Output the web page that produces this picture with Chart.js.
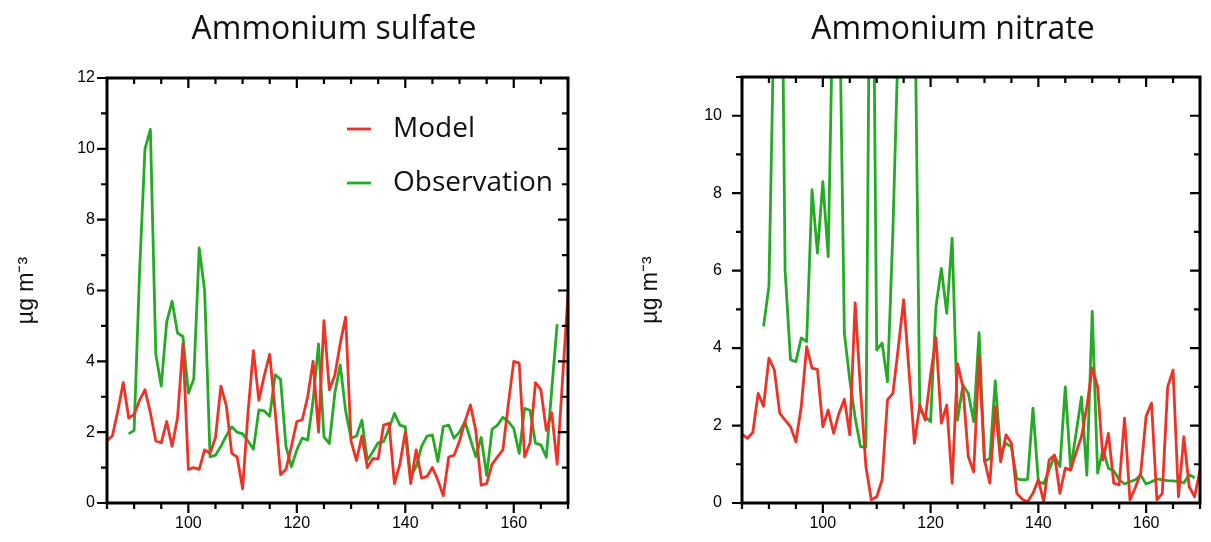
<!DOCTYPE html>
<html>
<head>
<meta charset="utf-8">
<script src="https://cdn.jsdelivr.net/npm/chart.js@4.4.1/dist/chart.umd.min.js"></script>
<style>
  body { margin: 0; background: #fff; width: 1211px; height: 542px; overflow: hidden; }
  canvas { position: absolute; top: 0; }
  #sulfate { left: 0; }
  #nitrate { left: 605px; }
</style>
</head>
<body>
<canvas id="sulfate" width="605" height="542"></canvas>
<canvas id="nitrate" width="606" height="542"></canvas>
<script>
// days 85..170, one value per day, null = no observation
var firstDay = 85;
var seriesNames = ['Model', 'Observation'];

var sulfateModel = [
  1.75, 1.9, 2.6, 3.4, 2.4, 2.5, 2.9, 3.2, 2.55, 1.75,
  1.7, 2.3, 1.6, 2.4, 4.5, 0.95, 1.0, 0.95, 1.5, 1.4,
  1.85, 3.3, 2.75, 1.4, 1.3, 0.4, 2.55, 4.3, 2.9, 3.6,
  4.2, 2.6, 0.8, 0.95, 1.6, 2.3, 2.35, 3.0, 4.0, 2.0,
  5.15, 3.2, 3.6, 4.5, 5.25, 1.75, 1.2, 1.9, 1.0, 1.25,
  1.25, 2.2, 2.25, 0.55, 1.1, 2.0, 0.55, 1.5, 0.7, 0.75,
  1.0, 0.65, 0.2, 1.3, 1.35, 1.75, 2.3, 2.77, 2.05, 0.5,
  0.55, 1.1, 1.3, 1.5, 2.8, 4.0, 3.95, 1.3, 1.7, 3.4,
  3.2, 2.05, 2.55, 1.1, 3.5, 5.9
];
var sulfateObs = [
  null, null, null, null, 1.95, 2.05, 6.5, 10.0, 10.55, 4.2,
  3.3, 5.1, 5.7, 4.8, 4.7, 3.1, 3.5, 7.2, 6.0, 1.3,
  1.35, 1.6, 1.9, 2.15, 2.0, 1.95, 1.75, 1.52, 2.63, 2.6,
  2.45, 3.62, 3.49, 1.6, 1.02, 1.5, 1.83, 1.78, 2.9, 4.49,
  1.87, 1.68, 3.09, 3.9, 2.6, 1.83, 1.89, 2.34, 1.21, 1.45,
  1.7, 1.73, 2.1, 2.53, 2.2, 2.15, 0.74, 1.03, 1.6, 1.89,
  1.92, 1.17, 2.16, 2.2, 1.83, 2.0, 2.3, 1.8, 1.31, 1.85,
  0.78, 2.08, 2.2, 2.42, 2.3, 2.11, 1.4, 2.67, 2.62, 1.69,
  1.64, 1.29, 3.2, 5.05, null, null
];
var nitrateModel = [
  1.78, 1.67, 1.82, 2.83, 2.5, 3.74, 3.44, 2.32, 2.14, 1.97,
  1.58, 2.49, 4.04, 3.48, 3.45, 1.97, 2.4, 1.8, 2.32, 2.68,
  1.76, 5.17, 2.9, 0.94, 0.08, 0.16, 0.6, 2.66, 2.83, 4.0,
  5.25, 3.4, 1.54, 2.53, 2.14, 3.3, 4.27, 2.06, 2.53, 0.51,
  3.6, 3.0, 1.2, 0.8, 3.78, 1.11, 0.51, 2.49, 1.06, 1.76,
  1.54, 0.25, 0.1, 0.03, 0.25, 0.6, 0.03, 1.11, 1.24, 0.25,
  0.9, 0.85, 1.3, 1.71, 2.49, 3.48, 3.0, 1.11, 1.8, 0.51,
  0.47, 2.19, 0.08, 0.4, 0.77, 2.24, 2.58, 0.08, 0.25, 3.0,
  3.43, 0.16, 1.71, 0.42, 0.16, 0.85
];
var nitrateObs = [
  null, null, null, null, 4.56, 5.6, 13, 20, 6.0, 3.7,
  3.65, 4.26, 4.17, 8.09, 6.45, 8.3, 6.36, 14, 14, 4.38,
  3.18, 2.2, 1.45, 1.45, 20, 3.95, 4.13, 3.13, 7.0, 12,
  16, 16, 14, 2.4, 2.23, 2.1, 5.07, 6.06, 4.9, 6.84,
  2.14, 3.05, 2.83, 2.1, 4.4, 1.07, 1.15, 3.15, 1.28, 1.54,
  1.45, 0.62, 0.6, 0.61, 2.45, 0.55, 0.5, 0.85, 1.22, 0.94,
  3.0, 0.87, 1.8, 2.74, 0.72, 4.95, 0.77, 1.39, 0.9, 0.83,
  0.6, 0.49, 0.55, 0.6, 0.72, 0.49, 0.55, 0.62, 0.6, 0.58,
  0.57, 0.55, 0.52, 0.73, 0.65, null
];

var red = '#ef3226';
var green = '#25aa25';

function points(vals) {
  return vals.map(function (v, i) { return { x: firstDay + i, y: v }; });
}

// box around the plot, ticks out on left/bottom, in on top/right
var frameTicks = {
  id: 'frameTicks',
  afterDatasetsDraw: function (chart) {
    var ctx = chart.ctx, a = chart.chartArea;
    var x = chart.scales.x, y = chart.scales.y;
    ctx.save();
    ctx.strokeStyle = '#000';
    ctx.lineWidth = 2.2;
    ctx.beginPath();
    x.ticks.forEach(function (t) {
      var px = x.getPixelForValue(t.value);
      var len = t.label !== '' ? 10 : 6;
      ctx.moveTo(px, a.bottom); ctx.lineTo(px, a.bottom + len);
      ctx.moveTo(px, a.top); ctx.lineTo(px, a.top + len);
    });
    y.ticks.forEach(function (t) {
      var py = y.getPixelForValue(t.value);
      var len = t.label !== '' ? 10 : 6;
      ctx.moveTo(a.left, py); ctx.lineTo(a.left - len, py);
      ctx.moveTo(a.right, py); ctx.lineTo(a.right - len, py);
    });
    ctx.stroke();
    ctx.lineWidth = 3;
    ctx.strokeRect(a.left, a.top, a.right - a.left, a.bottom - a.top);
    ctx.restore();
  }
};

var panelTitle = {
  id: 'panelTitle',
  afterDraw: function (chart, args, opts) {
    var ctx = chart.ctx;
    ctx.save();
    ctx.font = '32px "Open Sans"';
    ctx.fillStyle = '#111';
    ctx.textAlign = 'center';
    ctx.textBaseline = 'middle';
    ctx.fillText(opts.text, opts.x, opts.y);
    ctx.restore();
  }
};

var insideLegend = {
  id: 'insideLegend',
  afterDraw: function (chart, args, opts) {
    if (!opts.show) return;
    var ctx = chart.ctx, a = chart.chartArea;
    ctx.save();
    ctx.font = '28px "Open Sans"';
    ctx.textBaseline = 'middle';
    chart.data.datasets.forEach(function (ds, i) {
      var lx = a.left + opts.left;
      var ly = a.top + opts.top + i * opts.gap;
      ctx.strokeStyle = ds.borderColor;
      ctx.lineWidth = 2.8;
      ctx.beginPath();
      ctx.moveTo(lx, ly);
      ctx.lineTo(lx + 24, ly);
      ctx.stroke();
      ctx.fillStyle = '#111';
      ctx.fillText(ds.label, lx + 46, ly);
    });
    ctx.restore();
  }
};

function makeConfig(model, obs, yMax, p) {
  return {
    type: 'line',
    data: {
      datasets: [
        { label: seriesNames[0], data: points(model), borderColor: red, borderWidth: 2.8 },
        { label: seriesNames[1], data: points(obs), borderColor: green, borderWidth: 2.8 }
      ]
    },
    options: {
      responsive: false,
      animation: false,
      spanGaps: false,
      elements: { point: { radius: 0 }, line: { tension: 0, borderJoinStyle: 'round' } },
      layout: { padding: { top: p.top, right: p.right, left: 0, bottom: 0 } },
      plugins: {
        legend: { display: false },
        tooltip: { enabled: false },
        panelTitle: { text: p.title, x: p.titleX, y: 30 },
        insideLegend: { show: p.legend, left: 240, top: 51, gap: 54 }
      },
      scales: {
        x: {
          type: 'linear', min: 85, max: 170,
          afterFit: function (s) { s.height = 39; },
          grid: { display: false, drawTicks: false },
          border: { display: false },
          ticks: {
            stepSize: 5, autoSkip: false, maxRotation: 0, padding: 11,
            color: '#000', font: { family: 'Liberation Sans', size: 16 },
            callback: function (v) { return v % 20 === 0 ? v : ''; }
          }
        },
        y: {
          min: 0, max: yMax,
          afterFit: function (s) { s.width = p.axisW; },
          grid: { display: false, drawTicks: false },
          border: { display: false },
          ticks: {
            stepSize: 1, autoSkip: false, padding: p.tickPad,
            color: '#000', font: { family: 'Liberation Sans', size: 16 },
            callback: function (v) { return v % 2 === 0 ? v : ''; }
          },
          title: {
            display: true, text: '\u00b5g m\u207b\u00b3', color: '#111',
            font: { family: 'Liberation Sans', size: 23 },
            padding: { top: p.titlePad, bottom: 0 }
          }
        }
      }
    },
    plugins: [frameTicks, panelTitle, insideLegend]
  };
}

window.onload = function () {
  new Chart(document.getElementById('sulfate').getContext('2d'),
    makeConfig(sulfateModel, sulfateObs, 12,
      { top: 78, right: 37, axisW: 107, tickPad: 12, titlePad: 13,
        title: 'Ammonium sulfate', titleX: 334, legend: true }));
  new Chart(document.getElementById('nitrate').getContext('2d'),
    makeConfig(nitrateModel, nitrateObs, 11,
      { top: 77, right: 9, axisW: 137, tickPad: 20, titlePad: 32,
        title: 'Ammonium nitrate', titleX: 348, legend: false }));
};
</script>
</body>
</html>
